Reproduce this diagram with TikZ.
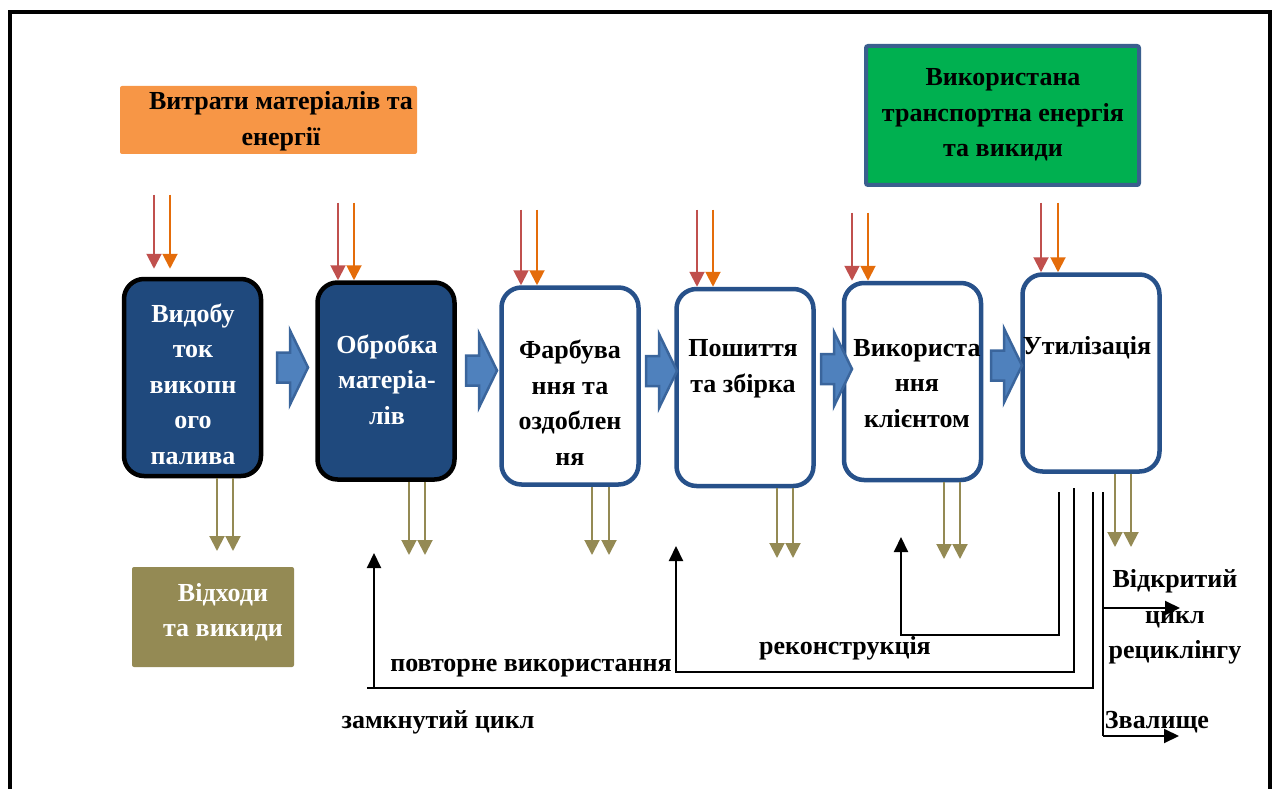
\documentclass[tikz,border=0pt]{standalone}
\usepackage{fontspec}
\setmainfont{Liberation Serif}
\usetikzlibrary{arrows.meta,calc}

\definecolor{procblue}{HTML}{1F497D}
\definecolor{edgeblue}{HTML}{27518A}
\definecolor{arrfill}{HTML}{4F81BD}
\definecolor{arredge}{HTML}{3A659C}
\definecolor{inred}{HTML}{C0504D}
\definecolor{inorange}{HTML}{E46C0A}
\definecolor{wasteolive}{HTML}{948A54}
\definecolor{boxorange}{HTML}{F79646}
\definecolor{boxgreen}{HTML}{00B050}
\definecolor{greenedge}{HTML}{3A5F8E}

\tikzset{
  proc/.style={rounded corners=20pt, minimum width=137pt, minimum height=197pt,
    line width=4.5pt, inner sep=0pt},
  darkproc/.style={proc, draw=black, fill=procblue},
  lightproc/.style={proc, draw=edgeblue, fill=white},
  txt/.style={font=\fontsize{26}{35.5}\selectfont\bfseries, align=center, inner sep=0pt},
  tip/.style={-{Triangle[width=15pt,length=15pt]}},
  intakered/.style={tip, draw=inred, fill=inred, line width=2pt},
  intakeorange/.style={tip, draw=inorange, fill=inorange, line width=2pt},
  waste/.style={tip, draw=wasteolive, fill=wasteolive, line width=2pt},
  loopline/.style={draw=black, line width=2pt},
  loop/.style={loopline, -{Triangle[width=14pt,length=15pt]}},
  blockarr/.pic={
    \path[fill=arrfill, draw=arredge, line width=2.5pt, line join=miter]
      (-31,-15) -- (-18,-15) -- (-18,-37) -- (0,0) -- (-18,37) -- (-18,15)
      -- (-31,15) -- cycle;}
}

\begin{document}
\begin{tikzpicture}[x=1pt, y=-1pt]
\useasboundingbox (0,0) rectangle (1278,789);
\clip (0,0) rectangle (1278,789);

% outer frame
\draw[line width=4.5pt] (10,800) -- (10,12) -- (1270,12) -- (1270,800);

% source and sink boxes
\node[fill=boxorange, rounded corners=2pt, minimum width=297pt, minimum height=68pt, inner sep=0pt]
  (inputs) at (268.5,120) {};
\node[txt] (inputstxt) at (281,121) {Витрати матеріалів та\\енергії};

\node[fill=boxgreen, draw=greenedge, line width=4pt, rounded corners=2pt,
  minimum width=273pt, minimum height=139pt, inner sep=0pt] (transport) at (1002.5,115.5) {};
\node[txt] (transporttxt) at (1003,115) {Використана\\транспортна енергія\\та викиди};

\node[fill=wasteolive, rounded corners=2pt, minimum width=162pt, minimum height=100pt, inner sep=0pt]
  (wastebox) at (213,617) {};
\node[txt, text=white] (wastetxt) at (223,612) {Відходи\\та викиди};

% process chain
\node[darkproc]  (b1) at (192.5,377.5) {};
\node[darkproc]  (b2) at (386,381) {};
\node[lightproc] (b3) at (570,386) {};
\node[lightproc] (b4) at (745,387.5) {};
\node[lightproc] (b5) at (912.5,381.5) {};
\node[lightproc] (b6) at (1091,373) {};

\node[txt, text=white] (t1) at (193,384) {Видобу\\ток\\викопн\\ого\\палива};
\node[txt, text=white] (t2) at (387,379.5) {Обробка\\матеріа-\\лів};
\node[txt] (t3) at (570,402.5) {Фарбува\\ння та\\оздоблен\\ня};
\node[txt] (t4) at (743,369) {Пошиття\\та збірка};
\node[txt] (t5) at (917,383.5) {Використа\\ння\\клієнтом};
\node[txt] (t6) at (1087,348) {Утилізація};

% block arrows between stages
\pic at (308,367.5) {blockarr};
\pic at (497,370.5) {blockarr};
\pic at (677,371) {blockarr};
\pic at (852,369) {blockarr};
\pic at (1022,365.5) {blockarr};

% material and energy inputs
\coordinate (r1) at (154,195);  \coordinate (o1) at (170,195);
\coordinate (r2) at (338,203);  \coordinate (o2) at (354,203);
\coordinate (r3) at (521,210);  \coordinate (o3) at (537,210);
\coordinate (r4) at (697,210);  \coordinate (o4) at (713,210);
\coordinate (r5) at (852,213);  \coordinate (o5) at (868,213);
\coordinate (r6) at (1041,203); \coordinate (o6) at (1058,203);
\draw[intakered, shorten >=8pt]    (r1) -- (r1 |- b1.north);
\draw[intakeorange, shorten >=8pt] (o1) -- (o1 |- b1.north);
\foreach \i in {2,...,6}{
  \draw[intakered]    (r\i) -- (r\i |- b\i.north);
  \draw[intakeorange] (o\i) -- (o\i |- b\i.north);
}

% waste outputs
\coordinate (w1a) at (217,551);  \coordinate (w1b) at (233,551);
\coordinate (w2a) at (409,555);  \coordinate (w2b) at (425,555);
\coordinate (w3a) at (592,555);  \coordinate (w3b) at (609,555);
\coordinate (w4a) at (777,558);  \coordinate (w4b) at (793,558);
\coordinate (w5a) at (944,559);  \coordinate (w5b) at (960,559);
\coordinate (w6a) at (1115,547); \coordinate (w6b) at (1131,547);
\foreach \i in {1,...,6}{
  \draw[waste] (b\i.south -| w\i a) -- (w\i a);
  \draw[waste] (b\i.south -| w\i b) -- (w\i b);
}

% return loops
\coordinate (f1s) at (1059,492); \coordinate (f1c) at (901,635); \coordinate (f1e) at (901,537);
\draw[loop] (f1s) |- (f1c) -- (f1e);
\coordinate (f2s) at (1074,488); \coordinate (f2c) at (676,672); \coordinate (f2e) at (676,546);
\draw[loop] (f2s) |- (f2c) -- (f2e);
\coordinate (f3s) at (1093,492); \coordinate (f3c) at (374,688); \coordinate (f3e) at (374,553);
\draw[loopline] (f3s) |- ([xshift=-7pt]f3c);
\draw[loop] (f3c) -- (f3e);
\coordinate (f4s) at (1103,492); \coordinate (f4a) at (1103,608); \coordinate (f4b) at (1103,736);
\coordinate (f4at) at (1180,608); \coordinate (f4bt) at (1179,736);
\draw[loopline] (f4s) -- (f4b);
\draw[loop] (f4a) -- (f4at);
\draw[loop] (f4b) -- (f4bt);

% loop labels
\node[txt] (lrecon) at (845,648) {реконструкція};
\node[txt] (lreuse) at (531,668) {повторне використання};
\node[txt] (lclosed) at (438,722) {замкнутий цикл};
\node[txt] (lopen) at (1175,617) {Відкритий\\цикл\\рециклінгу};
\node[txt] (llandfill) at (1157,722) {Звалище};
\end{tikzpicture}
\end{document}
